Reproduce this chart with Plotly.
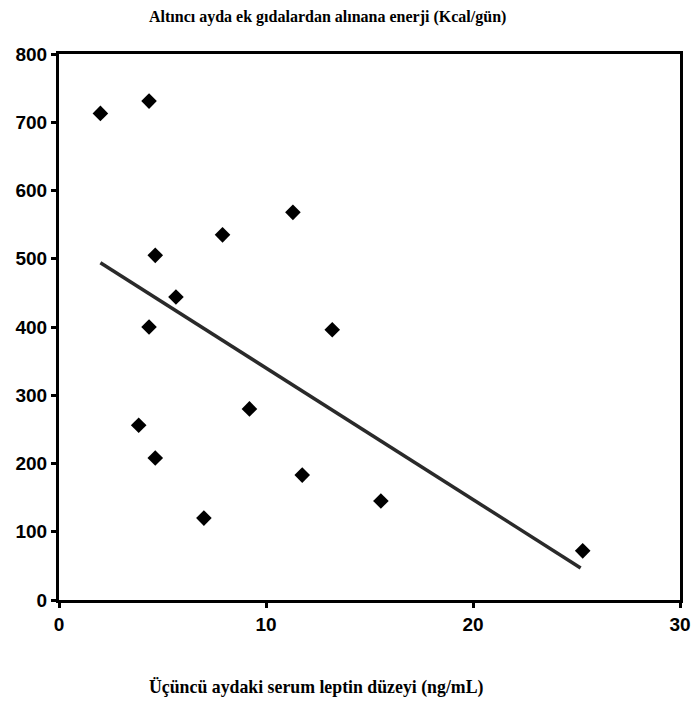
import plotly.graph_objects as go

# Scatter data
leptin = [2.0, 4.35, 4.65, 5.65, 4.35, 7.9, 11.3, 13.2, 3.85, 4.65, 9.2, 7.0, 11.75, 15.55, 25.3]
energy = [713, 731, 505, 444, 400, 535, 568, 396, 256, 208, 280, 120, 183, 145, 72]

# Trend line endpoints
trend_x = [2.0, 25.2]
trend_y = [494, 47]

x_ticks = [0, 10, 20, 30]
y_ticks = [0, 100, 200, 300, 400, 500, 600, 700, 800]

title_text = "Altıncı ayda ek gıdalardan alınana enerji (Kcal/gün)"
xlabel_text = "Üçüncü aydaki serum leptin düzeyi (ng/mL)"

fig = go.Figure()
fig.add_trace(go.Scatter(
    x=trend_x, y=trend_y, mode="lines",
    line=dict(color="#2a2a2a", width=3.5),
    showlegend=False, hoverinfo="skip"))
fig.add_trace(go.Scatter(
    x=leptin, y=energy, mode="markers",
    marker=dict(symbol="diamond", size=12, color="black"),
    showlegend=False))

axis_common = dict(
    showline=True, linecolor="black", linewidth=3, mirror=True,
    showgrid=False, zeroline=False, automargin=False,
    ticks="outside", ticklen=5, tickwidth=3, tickcolor="black",
    tickfont=dict(family="Liberation Sans, Arial, sans-serif", size=19, color="black", weight="bold"),
)

fig.update_xaxes(range=[0, 30], tickvals=x_ticks, **axis_common)
fig.update_yaxes(range=[0, 800], tickvals=y_ticks, **axis_common)

fig.add_annotation(text=title_text, xref="paper", yref="paper", x=0.142, y=1.068,
                   xanchor="left", yanchor="middle", showarrow=False,
                   font=dict(family="Liberation Serif, Times New Roman, serif", size=16,
                             color="black", weight="bold"))
fig.add_annotation(text=xlabel_text, xref="paper", yref="paper", x=0.142, y=-0.161,
                   xanchor="left", yanchor="middle", showarrow=False,
                   font=dict(family="Liberation Serif, Times New Roman, serif", size=17.8,
                             color="black", weight="bold"))

fig.update_layout(
    width=692, height=708,
    margin=dict(l=59, r=12, t=54, b=108),
    plot_bgcolor="white", paper_bgcolor="white",
)

fig.write_html("out.html")
